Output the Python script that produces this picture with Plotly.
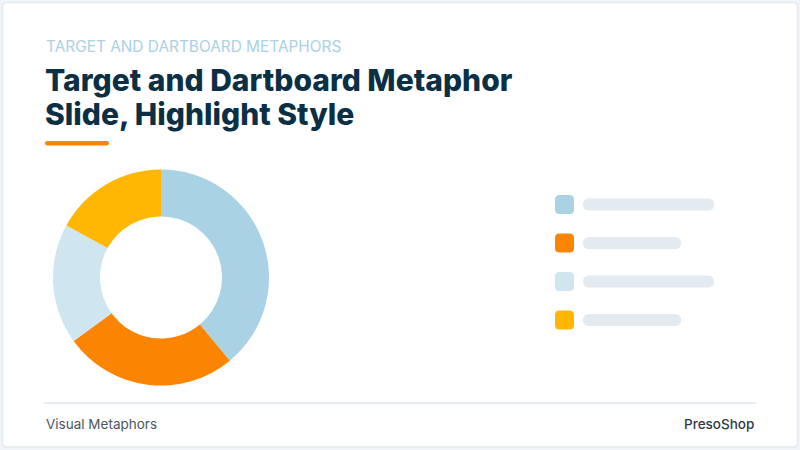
import plotly.graph_objects as go

# ---- data ----
segments = ["Segment 1", "Segment 2", "Segment 3", "Segment 4"]
values = [39, 26, 18, 17]
colors = ["#A9D2E4", "#FB8500", "#CFE5EF", "#FFB703"]

kicker = "TARGET AND DARTBOARD METAPHORS"
title_lines = ["Target and Dartboard Metaphor", "Slide, Highlight Style"]
footer_left = "Visual Metaphors"
footer_right = "PresoShop"

W, H = 800, 450
fig = go.Figure()

# donut
cx, cy, R = 161, 277.5, 108
fig.add_trace(go.Pie(
    labels=segments, values=values, sort=False, direction="clockwise", rotation=0,
    hole=0.565, marker=dict(colors=colors, line=dict(width=0)),
    textinfo="none", showlegend=False,
    domain=dict(x=[(cx - R) / W, (cx + R) / W], y=[(H - cy - R) / H, (H - cy + R) / H]),
))

# invisible pixel axes for shapes
fig.update_xaxes(range=[0, W], visible=False, fixedrange=True)
fig.update_yaxes(range=[H, 0], visible=False, fixedrange=True)
fig.add_trace(go.Scatter(x=[0], y=[0], mode="markers", marker=dict(opacity=0), showlegend=False, hoverinfo="skip"))


def rrect(x0, y0, x1, y1, r):
    return (f"M{x0+r},{y0} L{x1-r},{y0} Q{x1},{y0} {x1},{y0+r} L{x1},{y1-r} "
            f"Q{x1},{y1} {x1-r},{y1} L{x0+r},{y1} Q{x0},{y1} {x0},{y1-r} "
            f"L{x0},{y0+r} Q{x0},{y0} {x0+r},{y0} Z")


shapes = []
# card
shapes.append(dict(type="path", path=rrect(2.5, 2.5, 797.5, 447, 4), xref="x", yref="y",
                   fillcolor="white", line=dict(color="#E4EAF0", width=1.5), layer="below"))
# orange underline
shapes.append(dict(type="path", path=rrect(45, 141, 109, 145.5, 2.2), xref="x", yref="y",
                   fillcolor="#FB8500", line=dict(width=0)))
# footer divider
shapes.append(dict(type="line", x0=44, x1=756, y0=403, y1=403, xref="x", yref="y",
                   line=dict(color="#E6ECF1", width=2)))

# legend placeholders
row_y0 = 204.5
row_step = 38.5
bar_widths = [131, 98, 131, 98]
for i, c in enumerate(colors):
    yc = row_y0 + i * row_step
    shapes.append(dict(type="path", path=rrect(555, yc - 9.5, 574, yc + 9.5, 4.5), xref="x", yref="y",
                       fillcolor=c, line=dict(width=0)))
    bw = bar_widths[i]
    shapes.append(dict(type="path", path=rrect(583, yc - 6, 583 + bw, yc + 6, 6), xref="x", yref="y",
                       fillcolor="#E3EAF0", line=dict(width=0)))

annotations = [
    dict(text=kicker, x=44, y=46, xanchor="left", yanchor="middle",
         font=dict(family="Inter", size=15.4, color="#A9D2E4", weight=400)),
    dict(text=title_lines[0], x=43, y=80, xanchor="left", yanchor="middle",
         font=dict(family="Inter", size=30, color="#0B2F45", weight=800)),
    dict(text=title_lines[1], x=43, y=114, xanchor="left", yanchor="middle",
         font=dict(family="Inter", size=30, color="#0B2F45", weight=800)),
    dict(text=footer_left, x=44, y=424, xanchor="left", yanchor="middle",
         font=dict(family="Inter", size=13.5, color="#4B5661")),
    dict(text=footer_right, x=756, y=424, xanchor="right", yanchor="middle",
         font=dict(family="Inter", size=13.5, color="#2E3A45", weight=500)),
]
for a in annotations:
    a.update(xref="x", yref="y", showarrow=False)

fig.update_layout(
    width=W, height=H, margin=dict(l=0, r=0, t=0, b=0),
    paper_bgcolor="#F2F5F8", plot_bgcolor="rgba(0,0,0,0)",
    shapes=shapes, annotations=annotations,
)
fig.write_html("out.html", config=dict(displayModeBar=False),
               post_script="document.body.style.margin='0';document.body.style.overflow='hidden';")
